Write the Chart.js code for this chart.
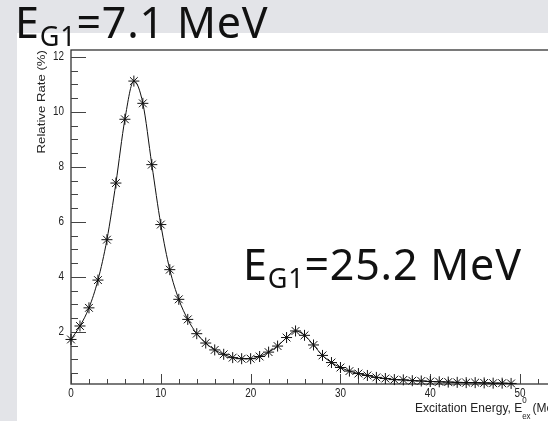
<!DOCTYPE html>
<html>
<head>
<meta charset="utf-8">
<script src="https://cdn.jsdelivr.net/npm/chart.js@4.4.1/dist/chart.umd.min.js"></script>
<style>
    html, body {
        margin: 0;
        width: 548px;
        height: 421px;
        overflow: hidden;
        background: #e3e4e8;
    }
    #panel {
        position: absolute;
        left: 17px;
        top: 33px;
        right: 0;
        bottom: 0;
        background: #fff;
    }
    #wrap {
        position: absolute;
        left: 0;
        top: 0;
        width: 600px;
        height: 421px;
    }
</style>
</head>
<body>
<div id="panel"></div>
<div id="wrap"><canvas id="rateChart" width="600" height="421"></canvas></div>
<script>
// Excitation energy (MeV) and relative rate (%) per point
const energies = [0, 1, 2, 3, 4, 5, 6, 7, 8, 9,
    10, 11, 12, 13, 14, 15, 16, 17, 18, 19,
    20, 21, 22, 23, 24, 25, 26, 27, 28, 29,
    30, 31, 32, 33, 34, 35, 36, 37, 38, 39,
    40, 41, 42, 43, 44, 45, 46, 47, 48, 49];
const rates = [1.72, 2.21, 2.87, 3.88, 5.35, 7.41, 9.73, 11.12, 10.31, 8.08,
    5.90, 4.26, 3.18, 2.45, 1.93, 1.59, 1.34, 1.18, 1.06, 1.02,
    1.02, 1.10, 1.26, 1.48, 1.79, 2.03, 1.87, 1.52, 1.14, 0.88,
    0.70, 0.57, 0.48, 0.41, 0.34, 0.30, 0.26, 0.25, 0.22, 0.21,
    0.19, 0.18, 0.17, 0.16, 0.15, 0.15, 0.14, 0.13, 0.13, 0.12];

// Axis ticks
const xTickValues = [0, 10, 20, 30, 40, 50];
const yTickValues = [2, 4, 6, 8, 10, 12];

// Peak annotations
const peakLabels = ['7.1', '25.2'];

const axisColor = '#333';
const helv = '"Liberation Sans", Arial, sans-serif';

// "E_G1=... MeV" with a subscript
function drawPeakLabel(ctx, x, baseline, size, value) {
    const face = '"Noto Sans", sans-serif';
    ctx.fillStyle = '#111';
    ctx.textAlign = 'left';
    ctx.textBaseline = 'alphabetic';
    ctx.letterSpacing = '0.8px';
    ctx.font = size + 'px ' + face;
    ctx.fillText('E', x, baseline);
    x += ctx.measureText('E').width;
    ctx.font = Math.round(size * 0.62) + 'px ' + face;
    ctx.fillText('G1', x, baseline + 8);
    x += ctx.measureText('G1').width;
    ctx.font = size + 'px ' + face;
    ctx.fillText('=' + value + ' MeV', x, baseline);
    ctx.letterSpacing = '0px';
}

// text squeezed/stretched like the rescaled ROOT canvas
function stretchedText(ctx, text, x, y, sx, sy) {
    ctx.save();
    ctx.translate(x, y);
    ctx.scale(sx, sy);
    ctx.fillText(text, 0, 0);
    ctx.restore();
}

// Frame, inward ticks and labels drawn in the ROOT style
const rootAxes = {
    id: 'rootAxes',
    beforeDatasetsDraw(chart) {
        const { ctx, chartArea: a, scales: { x, y } } = chart;
        ctx.save();
        ctx.strokeStyle = axisColor;
        ctx.lineWidth = 1.3;
        ctx.strokeRect(a.left, a.top, a.right - a.left, a.bottom - a.top);

        ctx.lineWidth = 1;
        ctx.strokeStyle = '#444';
        ctx.beginPath();
        for (let v = 0.5; v <= y.max; v += 0.5) {
            const py = Math.round(y.getPixelForValue(v)) + 0.5;
            const len = yTickValues.includes(v) ? 15 : 7;
            ctx.moveTo(a.left, py);
            ctx.lineTo(a.left + len, py);
        }
        for (let v = 0; v <= x.max; v += 2) {
            const px = Math.round(x.getPixelForValue(v)) + 0.5;
            const len = xTickValues.includes(v) ? 10 : 5;
            ctx.moveTo(px, a.bottom);
            ctx.lineTo(px, a.bottom - len);
        }
        ctx.stroke();

        ctx.fillStyle = '#222';
        ctx.font = '11px ' + helv;
        ctx.textAlign = 'right';
        ctx.textBaseline = 'middle';
        yTickValues.forEach(v => stretchedText(ctx, String(v), a.left - 7, y.getPixelForValue(v), 0.9, 1.1));
        ctx.textAlign = 'center';
        ctx.textBaseline = 'alphabetic';
        xTickValues.forEach(v => stretchedText(ctx, String(v), x.getPixelForValue(v), a.bottom + 13, 0.9, 1.1));

        // y title, right-aligned to the top of the axis
        ctx.save();
        ctx.translate(45, a.top);
        ctx.rotate(-Math.PI / 2);
        ctx.textAlign = 'right';
        ctx.font = '11px ' + helv;
        stretchedText(ctx, 'Relative Rate (%)', 0, 0, 1.2, 0.95);
        ctx.restore();

        // x title with E^0_ex
        ctx.textAlign = 'left';
        let tx = 415;
        const base = a.bottom + 28;
        ctx.font = '12px ' + helv;
        stretchedText(ctx, 'Excitation Energy, E', tx, base, 1, 1.12);
        tx += ctx.measureText('Excitation Energy, E').width;
        ctx.font = '8px ' + helv;
        stretchedText(ctx, '0', tx, base - 9, 1, 1.12);
        stretchedText(ctx, 'ex', tx, base + 7, 1, 1.12);
        tx += ctx.measureText('ex').width + 2;
        ctx.font = '12px ' + helv;
        stretchedText(ctx, '(MeV)', tx, base, 1, 1.12);
        ctx.restore();
    },
    afterDraw(chart) {
        const { ctx } = chart;
        ctx.save();
        drawPeakLabel(ctx, 15, 38, 43, peakLabels[0]);
        drawPeakLabel(ctx, 243, 280, 43, peakLabels[1]);
        ctx.restore();
    }
};

new Chart(document.getElementById('rateChart'), {
    type: 'line',
    data: {
        datasets: [{
            data: energies.map((e, i) => ({ x: e, y: rates[i] })),
            borderColor: '#111',
            borderWidth: 1,
            cubicInterpolationMode: 'monotone',
            pointStyle: 'star',
            pointRadius: 5.5,
            pointBorderWidth: 1,
            pointBorderColor: '#111',
            pointBackgroundColor: '#111',
            fill: false,
            clip: false
        }]
    },
    options: {
        responsive: false,
        animation: false,
        layout: {
            padding: { left: 71, top: 50, right: 35, bottom: 37 }
        },
        plugins: {
            legend: { display: false },
            tooltip: { enabled: false }
        },
        scales: {
            x: { type: 'linear', min: 0, max: 55, display: false },
            y: { type: 'linear', min: 0.1, max: 12.25, display: false }
        }
    },
    plugins: [rootAxes]
});
</script>
</body>
</html>
